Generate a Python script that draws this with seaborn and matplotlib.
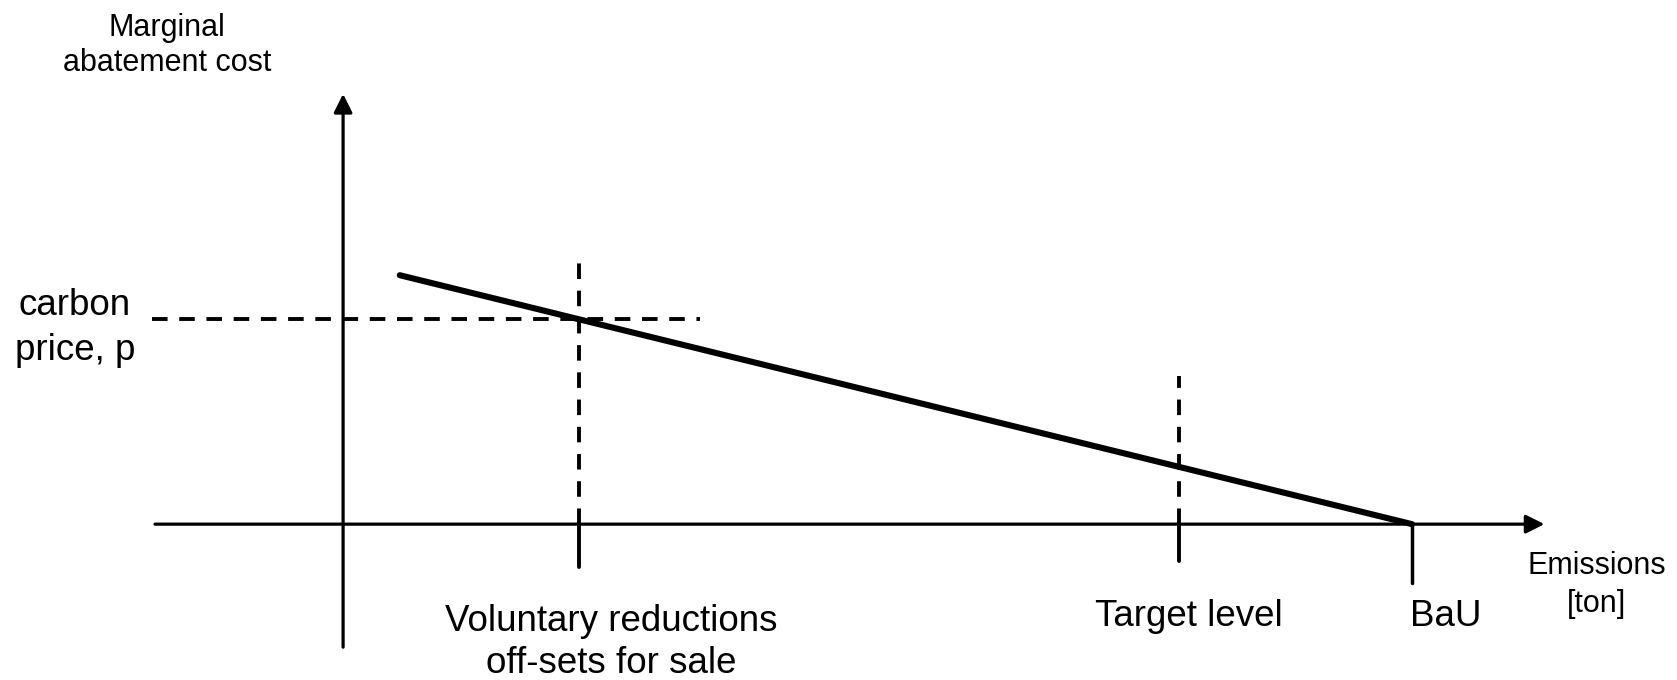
import numpy as np
import pandas as pd
import matplotlib
matplotlib.use("Agg")
import matplotlib.pyplot as plt
import seaborn as sns

# Datos del diagrama (unidades arbitrarias, BaU = 100)
mac_x = [5.3, 100.0]
mac_y = [60.7, 0.0]
carbon_price = 50.0
voluntary_level = 22.1
target_level = 78.2
bau_level = 100.0

sns.set_style("white")
plt.rcParams["font.family"] = ["Liberation Sans", "DejaVu Sans"]
plt.rcParams["text.color"] = "black"

fig = plt.figure(figsize=(16.77, 6.8), dpi=100)
ax = fig.add_axes([0, 0, 1, 1])
ax.set_xlim(-32.1, 124.8)
ax.set_ylim(-38.0, 127.8)

# Ejes con flecha
ax.annotate("", xy=(112.4, 0), xytext=(-17.6, 0),
            arrowprops=dict(arrowstyle="-|>", color="black", lw=2.3, mutation_scale=28, shrinkA=0, shrinkB=0))
ax.annotate("", xy=(0, 104.9), xytext=(0, -30.0),
            arrowprops=dict(arrowstyle="-|>", color="black", lw=2.3, mutation_scale=28, shrinkA=0, shrinkB=0))

# Curva de costo marginal
df = pd.DataFrame({"x": mac_x, "y": mac_y})
sns.lineplot(data=df, x="x", y="y", color="black", lw=4.4, ax=ax)
ax.axis("off")

dash = (4.0, 3.0)
dlw = 2.8
# Precio del carbono
ax.plot([-17.9, 33.4], [carbon_price, carbon_price], color="black", lw=dlw, dashes=dash)
# Reducciones voluntarias
ax.plot([voluntary_level, voluntary_level], [0, 63.9], color="black", lw=dlw, dashes=dash)
ax.plot([voluntary_level, voluntary_level], [-10.5, 0], color="black", lw=dlw)
# Nivel objetivo
ax.plot([target_level, target_level], [0, 36.1], color="black", lw=dlw, dashes=dash)
ax.plot([target_level, target_level], [-9.0, 0], color="black", lw=dlw)
# BaU
ax.plot([bau_level, bau_level], [-14.4, 0], color="black", lw=2.5)

small = 22
big = 26.5
ax.text(-16.5, 116.7, "Marginal\nabatement cost", ha="center", va="center", fontsize=small, linespacing=1.25)
ax.text(-25.1, 47.8, "carbon\nprice, p", ha="center", va="center", fontsize=big, linespacing=1.35)
ax.text(25.1, -28.8, "Voluntary reductions\noff-sets for sale", ha="center", va="center", fontsize=big, linespacing=1.25)
ax.text(79.1, -22.4, "Target level", ha="center", va="center", fontsize=big)
ax.text(103.2, -22.4, "BaU", ha="center", va="center", fontsize=big)
ax.text(117.3, -14.9, "Emissions\n[ton]", ha="center", va="center", fontsize=small, linespacing=1.35)

fig.savefig("out.png", dpi=100)
